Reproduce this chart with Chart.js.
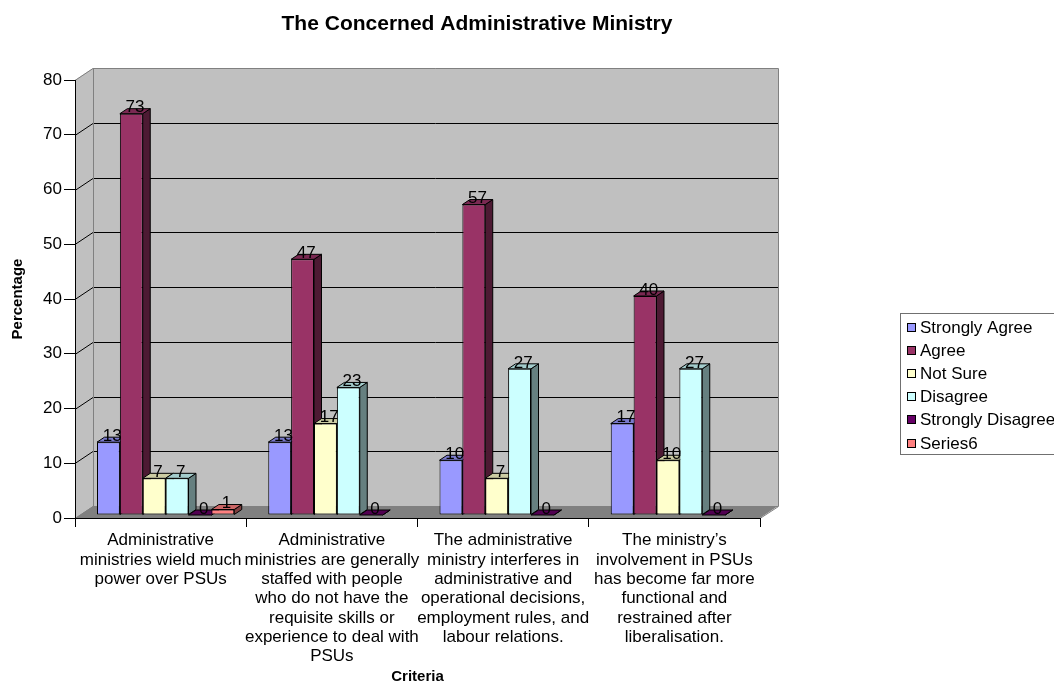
<!DOCTYPE html>
<html>
<head>
<meta charset="utf-8">
<script src="https://cdn.jsdelivr.net/npm/chart.js@4/dist/chart.umd.min.js"></script>
<style>
  html, body { margin: 0; padding: 0; background: #ffffff; }
  canvas { display: block; }
</style>
</head>
<body>
<canvas id="c" width="1054" height="684"></canvas>
<script>
// ---------- data ----------
const chartTitle = "The Concerned Administrative Ministry";
const yTitle = "Percentage";
const xTitle = "Criteria";
const categories = [
  ["Administrative", "ministries wield much", "power over PSUs"],
  ["Administrative", "ministries are generally", "staffed with people", "who do not have the", "requisite skills or", "experience to deal with", "PSUs"],
  ["The administrative", "ministry interferes in", "administrative and", "operational decisions,", "employment rules, and", "labour relations."],
  ["The ministry\u2019s", "involvement in PSUs", "has become far more", "functional and", "restrained after", "liberalisation."]
];
const seriesNames = ["Strongly Agree", "Agree", "Not Sure", "Disagree", "Strongly Disagree", "Series6"];
const stronglyAgree    = [13.3, 13.3, 10, 16.7];
const agree            = [73.3, 46.7, 56.7, 40];
const notSure          = [6.7, 16.7, 6.7, 10];
const disagree         = [6.7, 23.3, 26.7, 26.7];
const stronglyDisagree = [0, 0, 0, 0];
const series6          = [1, null, null, null];
const yTicks = [0, 10, 20, 30, 40, 50, 60, 70, 80];

// ---------- styles ----------
const FONT = '"Liberation Sans", Arial, sans-serif';
const fronts = ['#9999ff', '#993366', '#ffffcc', '#ccffff', '#660066', '#ff8080'];
const tops   = ['#7a7acc', '#7a2952', '#cccca3', '#a3cccc', '#520052', '#cc6666'];
const sides  = ['#4d4d80', '#4d1a33', '#808066', '#668080', '#330033', '#804040'];
const DX = 18, DY = 12;        // wall depth
const BDX = 7.5, BDY = 5;      // bar depth
const SX = 5, SY = -3;         // bar placement inside depth

Chart.defaults.font.family = FONT;
Chart.defaults.color = '#000';

function poly(ctx, pts, fill, stroke) {
  ctx.beginPath();
  ctx.moveTo(pts[0][0], pts[0][1]);
  for (let i = 1; i < pts.length; i++) ctx.lineTo(pts[i][0], pts[i][1]);
  ctx.closePath();
  if (fill) { ctx.fillStyle = fill; ctx.fill(); }
  if (stroke) { ctx.strokeStyle = stroke; ctx.lineWidth = 1; ctx.stroke(); }
}

const threeD = {
  id: 'threeD',
  beforeDraw(chart) {
    const { ctx, chartArea: a, scales: { y } } = chart;
    const L = a.left, R = a.right, T = a.top, B = a.bottom;
    ctx.save();
    // back wall
    poly(ctx, [[L + DX, T - DY], [R + DX, T - DY], [R + DX, B - DY], [L + DX, B - DY]], '#c0c0c0', null);
    // left wall
    poly(ctx, [[L, T], [L + DX, T - DY], [L + DX, B - DY], [L, B]], '#c0c0c0', null);
    // floor
    poly(ctx, [[L, B], [L + DX, B - DY], [R + DX, B - DY], [R, B]], '#808080', null);
    // gridlines
    ctx.lineWidth = 1;
    yTicks.forEach(v => {
      if (v <= y.min || v >= y.max) return;
      const py = Math.round(y.getPixelForValue(v)) + 0.5;
      ctx.strokeStyle = '#000';
      ctx.beginPath();
      ctx.moveTo(L, py);
      ctx.lineTo(L + DX, py - DY);
      ctx.lineTo(R + DX, py - DY);
      ctx.stroke();
    });
    // outlines
    ctx.strokeStyle = '#808080';
    ctx.beginPath();
    const t = Math.round(T) + 0.5, b = Math.round(B) + 0.5;
    ctx.moveTo(L, t); ctx.lineTo(L + DX, t - DY); ctx.lineTo(R + DX + 0.5, t - DY);
    ctx.lineTo(R + DX + 0.5, b - DY); ctx.lineTo(R, b);
    ctx.moveTo(L + DX + 0.5, t - DY); ctx.lineTo(L + DX + 0.5, b - DY);
    ctx.lineTo(R + DX, b - DY);
    ctx.moveTo(L, b); ctx.lineTo(L + DX, b - DY);
    ctx.stroke();
    ctx.restore();
  },
  beforeDatasetsDraw(chart) {
    const ctx = chart.ctx;
    ctx.save();
    ctx.translate(SX, SY);
    chart.data.datasets.forEach((ds, i) => {
      const meta = chart.getDatasetMeta(i);
      meta.data.forEach((bar, j) => {
        if (ds.data[j] == null) return;
        const { x, y, base, width } = bar.getProps(['x', 'y', 'base', 'width'], true);
        const l = x - width / 2, r = x + width / 2;
        poly(ctx, [[r, y], [r + BDX, y - BDY], [r + BDX, base - BDY], [r, base]], sides[i], '#000');
        poly(ctx, [[l, y], [l + BDX, y - BDY], [r + BDX, y - BDY], [r, y]], tops[i], '#000');
      });
    });
  },
  afterDatasetsDraw(chart) {
    const ctx = chart.ctx;
    ctx.font = '17px ' + FONT;
    ctx.fillStyle = '#000';
    ctx.textAlign = 'center';
    ctx.textBaseline = 'middle';
    chart.data.datasets.forEach((ds, i) => {
      const meta = chart.getDatasetMeta(i);
      meta.data.forEach((bar, j) => {
        const v = ds.data[j];
        if (v == null) return;
        const { x, y } = bar.getProps(['x', 'y'], true);
        ctx.fillText(String(Math.round(v)), x + BDX / 2, y - BDY - 1);
      });
    });
    ctx.restore();
  },
  afterDraw(chart) {
    const ctx = chart.ctx;
    ctx.save();
    // title
    ctx.font = 'bold 21px ' + FONT;
    ctx.fillStyle = '#000';
    ctx.textAlign = 'center';
    ctx.textBaseline = 'alphabetic';
    ctx.fillText(chartTitle, 477, 30);
    // legend
    ctx.strokeStyle = '#707070';
    ctx.lineWidth = 1;
    ctx.strokeRect(900.5, 313.5, 170, 141);
    ctx.font = '17px ' + FONT;
    ctx.textAlign = 'left';
    ctx.textBaseline = 'middle';
    chart.data.datasets.forEach((ds, i) => {
      const cy = 327 + i * 23.2;
      ctx.fillStyle = fronts[i];
      ctx.fillRect(907, Math.round(cy - 4.5), 9, 9);
      ctx.strokeStyle = '#000';
      ctx.strokeRect(907.5, Math.round(cy - 4.5) + 0.5, 8, 8);
      ctx.fillStyle = '#000';
      ctx.fillText(ds.label, 920, cy + 1);
    });
    ctx.restore();
  }
};

const datasets = [stronglyAgree, agree, notSure, disagree, stronglyDisagree, series6].map((d, i) => ({
  label: seriesNames[i],
  data: d,
  backgroundColor: fronts[i],
  borderColor: '#000',
  borderWidth: 1,
  borderSkipped: false,
  barPercentage: 1,
  categoryPercentage: 0.8015
}));

new Chart(document.getElementById('c'), {
  type: 'bar',
  data: { labels: categories, datasets },
  plugins: [threeD],
  options: {
    responsive: false,
    animation: false,
    layout: { padding: { top: 80, right: 294, bottom: 0, left: 0 } },
    plugins: { legend: { display: false }, title: { display: false }, tooltip: { enabled: false } },
    scales: {
      x: {
        grid: { offset: true, drawOnChartArea: false, drawTicks: true, tickLength: 9, color: '#000' },
        border: { display: true, color: '#000', width: 1 },
        ticks: { autoSkip: false, maxRotation: 0, minRotation: 0, padding: 4, color: '#000',
                 font: { size: 17, lineHeight: 1.135 } },
        title: { display: true, text: xTitle, color: '#000', font: { size: 15, weight: 'bold', lineHeight: 1 },
                 padding: { top: 0, bottom: 0 } },
        afterFit(s) { s.height = 166; }
      },
      y: {
        min: 0, max: 80,
        afterBuildTicks(s) { s.ticks = yTicks.map(v => ({ value: v })); },
        grid: { drawOnChartArea: false, drawTicks: true, tickLength: 11, color: '#000' },
        border: { display: true, color: '#000', width: 1 },
        ticks: { padding: 2, color: '#000', font: { size: 17 } },
        title: { display: true, text: yTitle, color: '#000', font: { size: 15, weight: 'bold', lineHeight: 1.2 },
                 padding: { top: 9, bottom: 0 } },
        afterFit(s) { s.width = 75; }
      }
    }
  }
});
</script>
</body>
</html>
